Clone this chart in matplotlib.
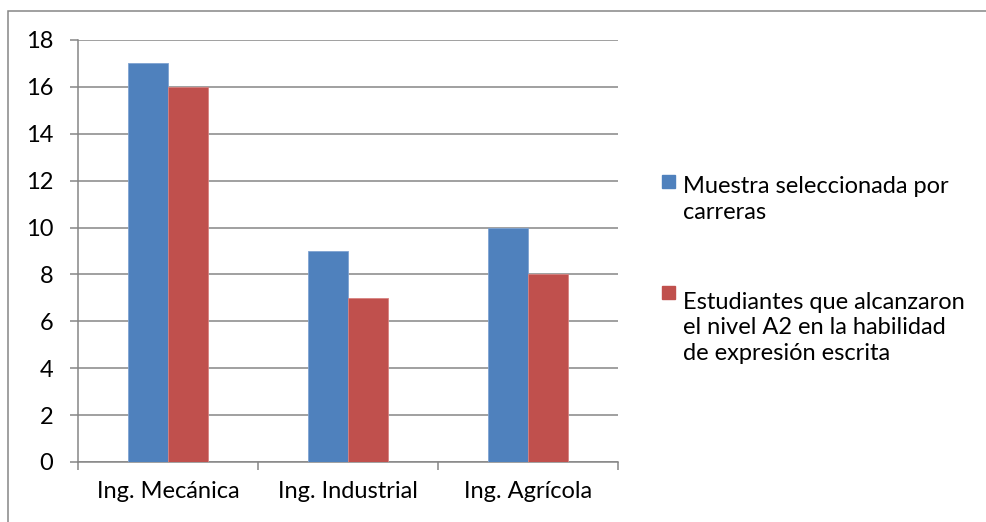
import numpy as np
import matplotlib
matplotlib.use("Agg")
import matplotlib.pyplot as plt
from matplotlib.patches import Rectangle

plt.rcParams['font.family'] = ['Lato', 'DejaVu Sans']

# datos
carreras = ["Ing. Mecánica", "Ing. Industrial", "Ing. Agrícola"]
muestra = [17, 9, 10]
alcanzaron = [16, 7, 8]
etiquetas = ["Muestra seleccionada por\ncarreras",
             "Estudiantes que alcanzaron\nel nivel A2 en la habilidad\nde expresión escrita"]
yticks = list(range(0, 19, 2))

azul = "#4F81BD"
rojo = "#C0504D"
gris = "#868686"
fs = 17

W, H = 986, 522
fig = plt.figure(figsize=(W / 100, H / 100), dpi=100)
ax = fig.add_axes([78 / W, 1 - 462 / H, (618 - 78) / W, (462 - 40) / H])

# borde de la figura (recortado a derecha y abajo)
fig.patches.append(Rectangle((8 / W, -0.2), 1.2, 1.2 - 10.5 / H, transform=fig.transFigure,
                             fill=False, edgecolor=gris, lw=1.1, clip_on=False))

x = np.arange(len(carreras))
w = 40 / 180
ax.bar(x - w / 2, muestra, w, color=azul, edgecolor="#7FA3D2", lw=0.6, zorder=3)
ax.bar(x + w / 2, alcanzaron, w, color=rojo, edgecolor="#D88280", lw=0.6, zorder=3)

ax.set_xlim(-0.5, len(carreras) - 0.5)
ax.set_ylim(0, 18)
ax.set_yticks(yticks)
ax.yaxis.grid(True, color=gris, lw=1.1, zorder=0)
ax.set_axisbelow(True)

ax.set_xticks(x)
ax.set_xticklabels(carreras)
ax.set_xticks(np.arange(-0.5, len(carreras)), minor=True)

for s in ["top", "right"]:
    ax.spines[s].set_visible(False)
for s in ["left", "bottom"]:
    ax.spines[s].set_color(gris)
    ax.spines[s].set_linewidth(1.1)

ax.tick_params(axis="y", length=5.8, width=1.1, color=gris, pad=12, labelsize=fs,
               labelcolor="black")
ax.tick_params(axis="x", which="major", length=0, pad=14, labelsize=fs)
ax.tick_params(axis="x", which="minor", length=5.8, width=1.1, color=gris)

# leyenda (marcador alineado con la primera línea)
colores = [azul, rojo]
base_y = [189, 300]
ls = 1.27
paso = ls * fs * 100 / 72
for c, lab, by in zip(colores, etiquetas, base_y):
    fig.patches.append(Rectangle((662 / W, 1 - (by - 1) / H), 13 / W, 13 / H,
                                 transform=fig.transFigure, color=c))
    ultima = by + lab.count("\n") * paso
    fig.text(683 / W, 1 - ultima / H, lab, fontsize=fs, va="baseline", ha="left",
             linespacing=ls)

fig.savefig("out.png", dpi=100)
